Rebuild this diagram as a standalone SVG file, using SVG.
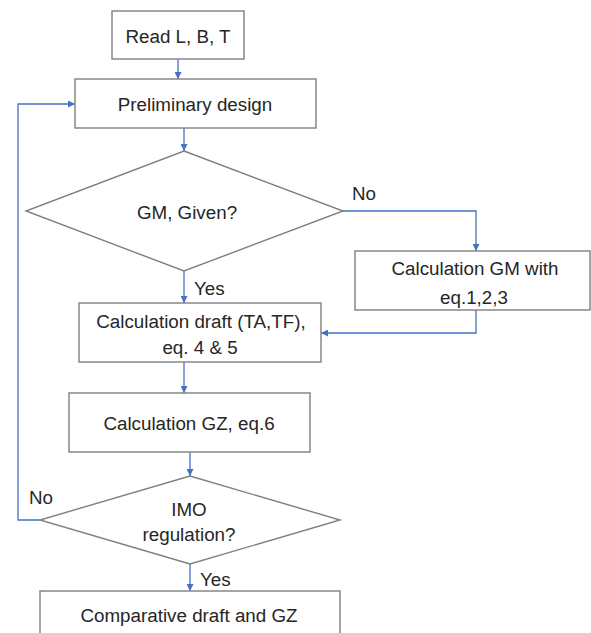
<svg xmlns="http://www.w3.org/2000/svg" width="591" height="633" viewBox="0 0 591 633">
<defs>
<marker id="ah" viewBox="0 0 10 10" refX="10" refY="5" markerWidth="7" markerHeight="7" markerUnits="userSpaceOnUse" orient="auto">
<path d="M0,0 L10,5 L0,10 z" fill="#4472C4"/>
</marker>
<style>
.box{fill:#fff;stroke:#7f7f7f;stroke-width:1.4}
.t{font-family:"Liberation Sans",Arial,sans-serif;font-size:18.8px;fill:#262626;text-anchor:middle;dominant-baseline:central}
.l{font-family:"Liberation Sans",Arial,sans-serif;font-size:18.8px;fill:#262626;dominant-baseline:central}
.c{fill:none;stroke:#4472C4;stroke-width:1.3;marker-end:url(#ah)}
</style>
</defs>
<rect width="591" height="633" fill="#fff"/>
<g id="connectors">
<path class="c" d="M178,59 V79"/>
<path class="c" d="M184,128 V151"/>
<path class="c" d="M343,211 H476 V251"/>
<path class="c" d="M184,271 V303"/>
<path class="c" d="M476,310 V333 H321"/>
<path class="c" d="M184,362 V393"/>
<path class="c" d="M190,452 V476"/>
<path class="c" d="M40,520 H18 V104 H75"/>
<path class="c" d="M190,564 V591"/>
<text class="l" x="352" y="193">No</text>
<text class="l" x="194" y="288">Yes</text>
<text class="l" x="29" y="497">No</text>
<text class="l" x="200" y="579">Yes</text>
</g>
<g id="read">
<rect class="box" x="112" y="11" width="132" height="48"/>
<text class="t" x="178" y="36">Read L, B, T</text>
</g>
<g id="prelim">
<rect class="box" x="75" y="79" width="241" height="49"/>
<text class="t" x="195" y="104">Preliminary design</text>
</g>
<g id="gmgiven">
<polygon class="box" points="184,151 343,211 184,271 26,211"/>
<text class="t" x="187" y="212">GM, Given?</text>
</g>
<g id="calcgm">
<rect class="box" x="355" y="251" width="235" height="59"/>
<text class="t" x="475" y="268">Calculation GM with</text>
<text class="t" x="474" y="297">eq.1,2,3</text>
</g>
<g id="draft">
<rect class="box" x="79" y="303" width="242" height="59"/>
<text class="t" x="201" y="321">Calculation draft (TA,TF),</text>
<text class="t" x="200" y="347">eq. 4 &amp; 5</text>
</g>
<g id="gz">
<rect class="box" x="69" y="393" width="241" height="59"/>
<text class="t" x="189" y="423">Calculation GZ, eq.6</text>
</g>
<g id="imo">
<polygon class="box" points="190,476 340,520 190,564 40,520"/>
<text class="t" x="189" y="509">IMO</text>
<text class="t" x="189" y="534">regulation?</text>
</g>
<g id="comparative">
<rect class="box" x="40" y="591" width="300" height="60"/>
<text class="t" x="189" y="615">Comparative draft and GZ</text>
</g>
</svg>
